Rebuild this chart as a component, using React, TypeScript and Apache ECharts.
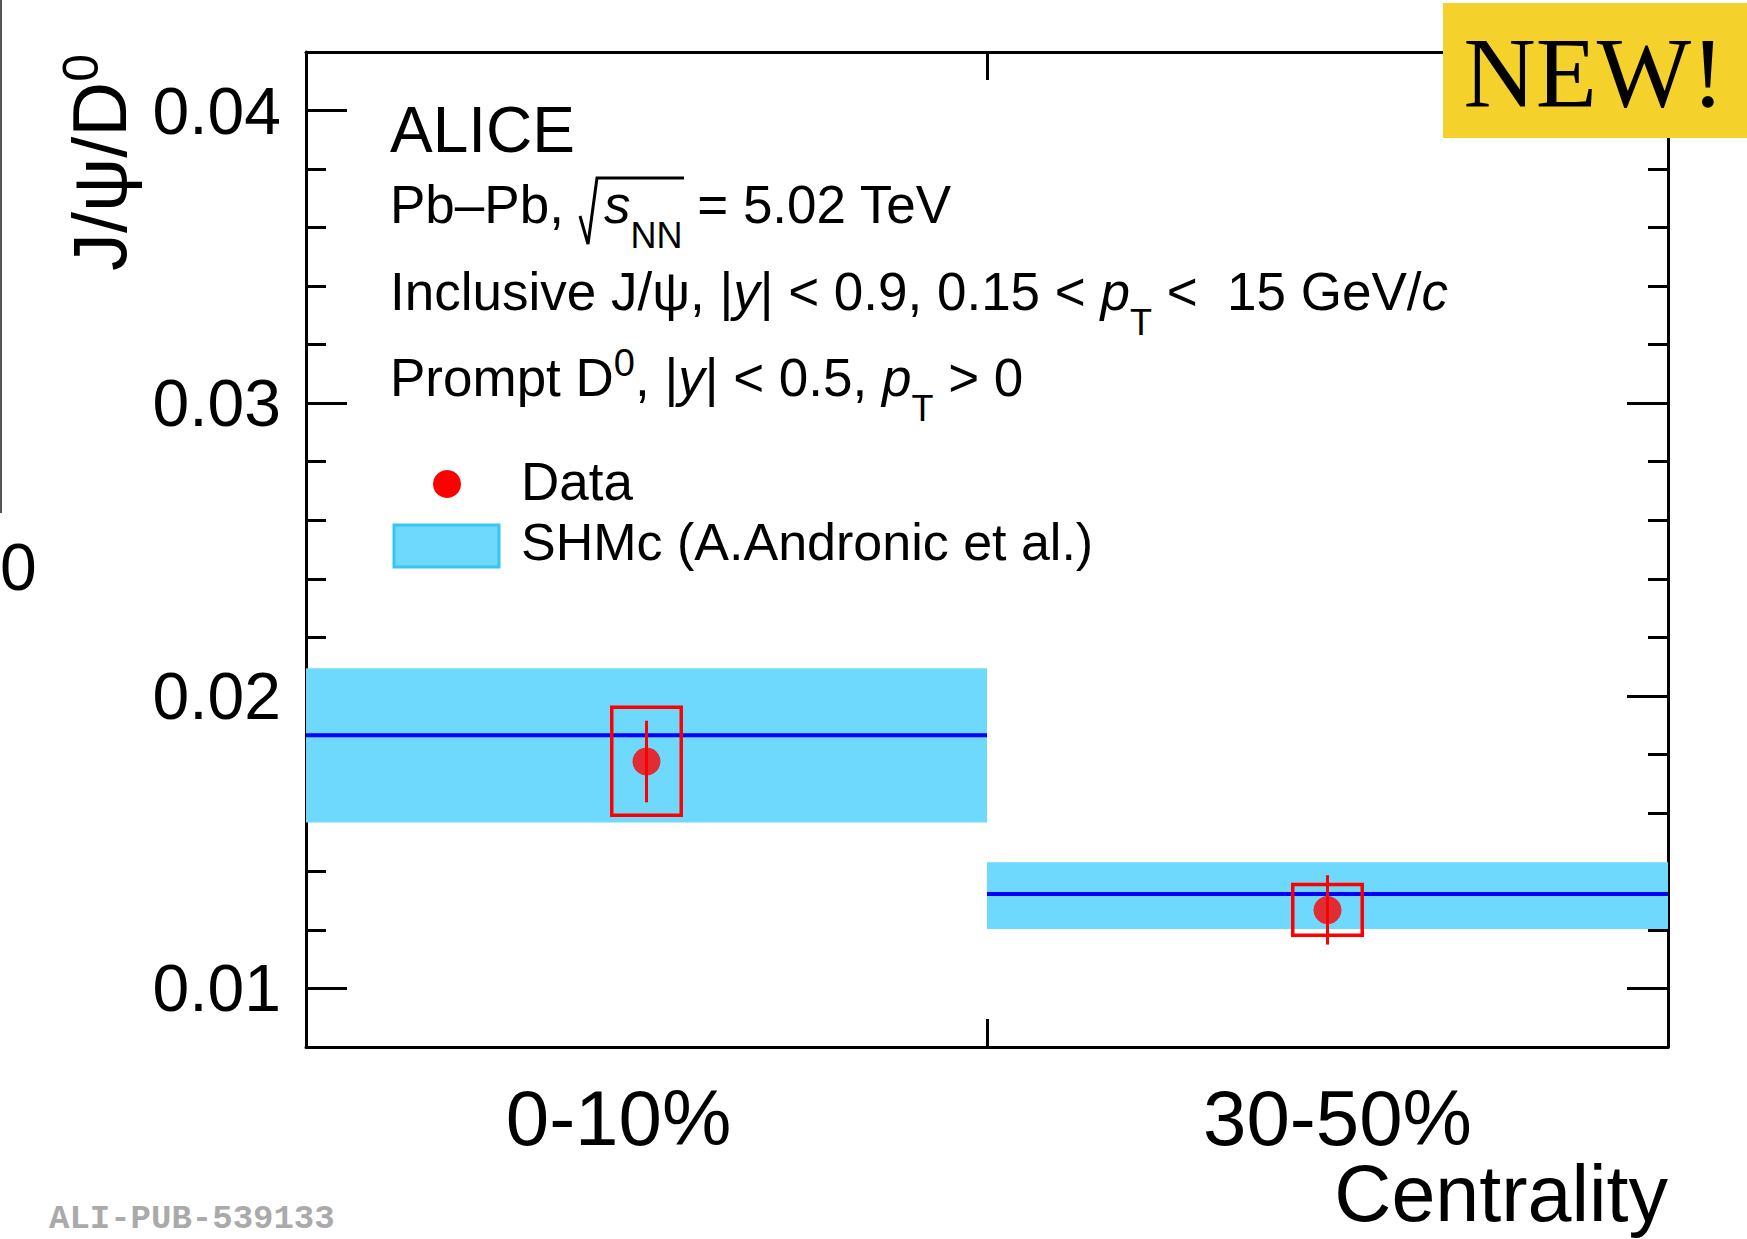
import React, { useEffect, useRef } from 'react';
import * as echarts from 'echarts';

// ---------------- data ----------------
const centralityBins = ['0-10%', '30-50%'];
const shmcLow = [0.01567, 0.01203];
const shmcHigh = [0.02094, 0.01431];
const shmcCentral = [0.01865, 0.01323];
const dataRatio = [0.01776, 0.01268];
const statLow = [0.01636, 0.0115];
const statHigh = [0.01915, 0.01387];
const sysLow = [0.01592, 0.01182];
const sysHigh = [0.01961, 0.01355];
const yMin = 0.008;
const yMax = 0.042;
const yMinorStep = 0.002;

// ---------------- styles ----------------
const FONT = '"Liberation Sans", Arial, Helvetica, sans-serif';
const SERIF = '"Liberation Serif", "Times New Roman", serif';
const MONO = '"Liberation Mono", "DejaVu Sans Mono", monospace';
const RED = '#ff0000';
const BLUE = '#0000ff';
const BAND = '#6fd9fd';
const BAND_EDGE = '#36c6f0';
const SYS_HALF_WIDTH = 0.051; // fraction of bin width
const LABEL_SHIFT_PAD = [
  [0, 56, 0, 0],
  [0, 0, 0, 20],
];

const LH = 70;
const richFor = (size: number) => ({
  i: { fontSize: size, fontFamily: FONT, fontStyle: 'italic', lineHeight: LH, fill: '#000' },
  sub: { fontSize: 36, fontFamily: FONT, lineHeight: LH, padding: [62, 0, 0, 0], fill: '#000' },
  sup: { fontSize: 38, fontFamily: FONT, lineHeight: LH, padding: [0, 0, 28, 0], fill: '#000' },
});

const txt = (text: string, x: number, y: number, size: number, extra: any = {}) => ({
  type: 'text',
  x,
  y,
  z: 50,
  style: {
    text,
    fontSize: size,
    fontFamily: FONT,
    fill: '#000',
    align: 'left',
    verticalAlign: 'middle',
    lineHeight: LH,
    rich: richFor(size),
    ...extra,
  },
});

function buildOption(): any {
  const frameLine = { show: true, onZero: false, lineStyle: { color: '#000', width: 3 } };
  const majorY = (pos: 'left' | 'right', labels: boolean) => ({
    type: 'value',
    position: pos,
    min: yMin,
    max: yMax,
    splitNumber: 3,
    axisLine: frameLine,
    axisTick: { show: true, inside: true, length: 41, lineStyle: { color: '#000', width: 3 } },
    splitLine: { show: false },
    axisLabel: {
      show: labels,
      inside: false,
      margin: 25,
      fontSize: 66,
      fontFamily: FONT,
      color: '#000',
      formatter: (v: number) =>
        Math.abs(v * 100 - Math.round(v * 100)) < 1e-6 ? String(Math.round(v * 100) / 100) : '',
    },
  });
  const minorY = (pos: 'left' | 'right') => ({
    type: 'value',
    position: pos,
    min: yMin,
    max: yMax,
    interval: yMinorStep,
    axisLine: { show: false },
    axisTick: { show: true, inside: true, length: 20, lineStyle: { color: '#000', width: 3 } },
    splitLine: { show: false },
    axisLabel: { show: false },
  });
  const catX = (pos: 'top' | 'bottom', labels: boolean) => ({
    type: 'category',
    position: pos,
    data: centralityBins,
    boundaryGap: true,
    axisLine: frameLine,
    axisTick: { show: true, inside: true, length: 28, lineStyle: { color: '#000', width: 3 } },
    splitLine: { show: false },
    axisLabel: {
      show: labels,
      margin: 32,
      fontSize: 78,
      fontFamily: FONT,
      color: '#000',
      formatter: (v: string, i: number) => `{l${i}|${v}}`,
      rich: {
        l0: { fontSize: 78, fontFamily: FONT, color: '#000', padding: LABEL_SHIFT_PAD[0] },
        l1: { fontSize: 78, fontFamily: FONT, color: '#000', padding: LABEL_SHIFT_PAD[1] },
      },
    },
  });

  const idx = centralityBins.map((_, i) => i);

  return {
    animation: false,
    backgroundColor: '#ffffff',
    grid: { left: 306, right: 79, top: 52, bottom: 192, containLabel: false },
    xAxis: [catX('bottom', true), catX('top', false)],
    yAxis: [majorY('left', true), majorY('right', false), minorY('left'), minorY('right')],
    series: [
      {
        type: 'custom',
        name: 'SHMc (A.Andronic et al.)',
        xAxisIndex: 0,
        yAxisIndex: 0,
        z: 2,
        encode: { x: 0, y: [1, 2] },
        data: idx.map((i) => [i, shmcLow[i], shmcHigh[i]]),
        renderItem: (params: any, api: any) => {
          const x = api.value(0);
          const top = api.coord([x, api.value(2)]);
          const bot = api.coord([x, api.value(1)]);
          const bw = api.size([1, 0])[0];
          return {
            type: 'rect',
            shape: { x: top[0] - bw / 2, y: top[1], width: bw, height: bot[1] - top[1] },
            style: { fill: BAND },
          };
        },
      },
      {
        type: 'custom',
        name: 'SHMc central',
        xAxisIndex: 0,
        yAxisIndex: 0,
        z: 3,
        encode: { x: 0, y: 1 },
        data: idx.map((i) => [i, shmcCentral[i]]),
        renderItem: (params: any, api: any) => {
          const x = api.value(0);
          const c = api.coord([x, api.value(1)]);
          const bw = api.size([1, 0])[0];
          return {
            type: 'line',
            shape: { x1: c[0] - bw / 2, y1: c[1], x2: c[0] + bw / 2, y2: c[1] },
            style: { stroke: BLUE, lineWidth: 4 },
          };
        },
      },
      {
        type: 'custom',
        name: 'Syst',
        xAxisIndex: 0,
        yAxisIndex: 0,
        z: 4,
        encode: { x: 0, y: [1, 2] },
        data: idx.map((i) => [i, sysLow[i], sysHigh[i]]),
        renderItem: (params: any, api: any) => {
          const x = api.value(0);
          const top = api.coord([x, api.value(2)]);
          const bot = api.coord([x, api.value(1)]);
          const hw = api.size([1, 0])[0] * SYS_HALF_WIDTH;
          return {
            type: 'rect',
            shape: { x: top[0] - hw, y: top[1], width: 2 * hw, height: bot[1] - top[1] },
            style: { fill: 'none', stroke: RED, lineWidth: 3.5 },
          };
        },
      },
      {
        type: 'custom',
        name: 'Stat',
        xAxisIndex: 0,
        yAxisIndex: 0,
        z: 5,
        encode: { x: 0, y: [1, 2] },
        data: idx.map((i) => [i, statLow[i], statHigh[i]]),
        renderItem: (params: any, api: any) => {
          const x = api.value(0);
          const top = api.coord([x, api.value(2)]);
          const bot = api.coord([x, api.value(1)]);
          return {
            type: 'line',
            shape: { x1: top[0], y1: top[1], x2: bot[0], y2: bot[1] },
            style: { stroke: RED, lineWidth: 3 },
          };
        },
      },
      {
        type: 'scatter',
        name: 'Data',
        xAxisIndex: 0,
        yAxisIndex: 0,
        z: 6,
        symbol: 'circle',
        symbolSize: 28,
        itemStyle: { color: RED },
        data: idx.map((i) => [i, dataRatio[i]]),
      },
    ],
    graphic: {
      elements: [
        // stray cropped-figure artifacts at left edge
        { type: 'line', z: 50, shape: { x1: 1, y1: 0, x2: 1, y2: 513 }, style: { stroke: '#555', lineWidth: 2 } },
        { type: 'text', x: 0, y: 567, z: 50, style: { text: '0', fontSize: 66, lineHeight: 66, fontFamily: FONT, fill: '#000', align: 'left', verticalAlign: 'middle' } },
        // y axis title
        {
          type: 'text',
          x: 99,
          y: 54,
          rotation: Math.PI / 2,
          z: 50,
          style: {
            text: '{m|J/ψ/D}{s|0}',
            align: 'right',
            verticalAlign: 'middle',
            fill: '#000',
            fontSize: 76,
            fontFamily: FONT,
            rich: {
              m: { fontSize: 76, fontFamily: FONT, lineHeight: 90, fill: '#000' },
              s: { fontSize: 50, fontFamily: FONT, lineHeight: 90, padding: [0, 0, 36, 0], fill: '#000' },
            },
          },
        },
        // x axis title
        { type: 'text', x: 1668, y: 1193, z: 50, style: { text: 'Centrality', fontSize: 79, lineHeight: 79, fontFamily: FONT, fill: '#000', align: 'right', verticalAlign: 'middle' } },
        // text block
        txt('ALICE', 390, 130, 64),
        txt('Pb–Pb,', 390, 204, 53),
        {
          type: 'polyline',
          z: 50,
          shape: { points: [[580, 216], [588, 244], [597, 178], [684, 178]] },
          style: { stroke: '#000', lineWidth: 3, fill: 'none' },
        },
        txt('{i|s}{sub|NN} = 5.02 TeV', 604, 204, 53),
        txt('Inclusive J/ψ, |{i|y}| < 0.9, 0.15 < {i|p}{sub|T} <  15 GeV/{i|c}', 390, 291, 53),
        txt('Prompt D{sup|0}, |{i|y}| < 0.5, {i|p}{sub|T} > 0', 390, 377, 53),
        // legend
        { type: 'circle', z: 50, shape: { cx: 447, cy: 484, r: 14 }, style: { fill: RED } },
        txt('Data', 521, 481, 53),
        { type: 'rect', z: 50, shape: { x: 394, y: 525, width: 105, height: 42 }, style: { fill: BAND, stroke: BAND_EDGE, lineWidth: 3 } },
        txt('SHMc (A.Andronic et al.)', 521, 542, 52),
        // NEW! badge
        { type: 'rect', z: 100, shape: { x: 1443, y: 3, width: 304, height: 135 }, style: { fill: '#f4d22b' } },
        { type: 'text', x: 1594, y: 72, z: 101, style: { text: 'NEW!', fontSize: 100, fontFamily: SERIF, fill: '#000', align: 'center', verticalAlign: 'middle' } },
        // publication id
        { type: 'text', x: 49, y: 1219, z: 50, style: { text: 'ALI-PUB-539133', fontSize: 34, lineHeight: 30, fontWeight: 'bold', fontFamily: MONO, fill: '#aaaaaa', align: 'left', verticalAlign: 'middle' } },
      ],
    },
  };
}

export default function App() {
  const ref = useRef<HTMLDivElement>(null);
  useEffect(() => {
    if (!ref.current) return;
    const chart = echarts.init(ref.current, undefined, { renderer: 'svg' });
    chart.setOption(buildOption());
    return () => chart.dispose();
  }, []);
  return (
    <div
      ref={ref}
      style={{ position: 'fixed', left: 0, top: 0, width: 1747, height: 1239, background: '#fff' }}
    />
  );
}
